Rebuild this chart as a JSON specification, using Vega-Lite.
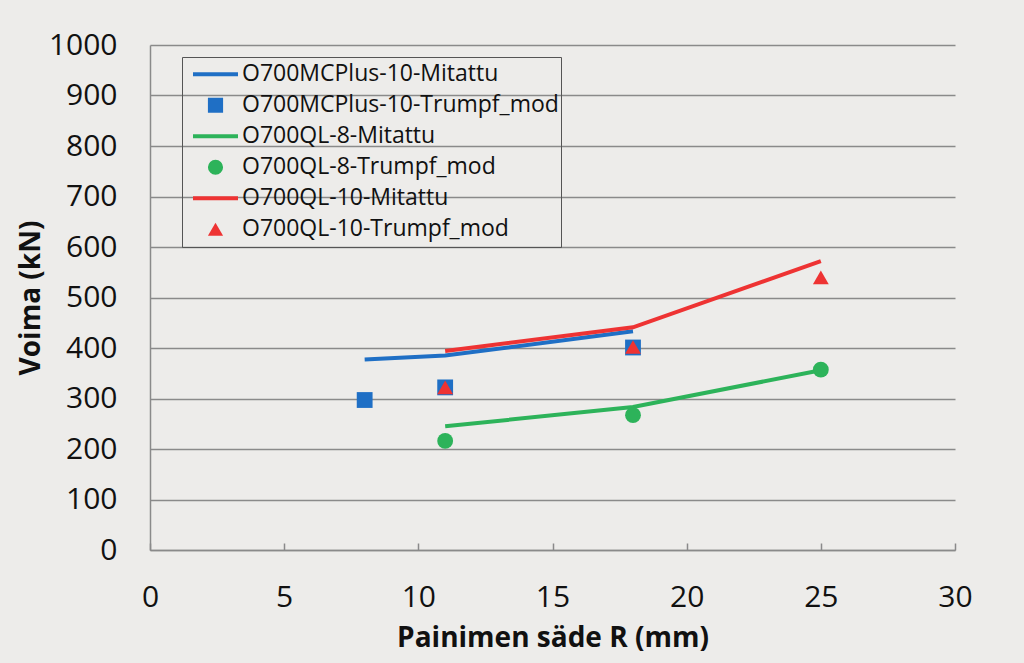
{
  "$schema": "https://vega.github.io/schema/vega-lite/v6.json",
  "width": 805,
  "height": 505,
  "autosize": "none",
  "padding": {"left": 150, "top": 45, "right": 69, "bottom": 113},
  "background": "#EDECEA",
  "config": {"view": {"stroke": null}, "font": "Open Sans"},
  "data": {"values": [
    {"series": "O700MCPlus-10-Mitattu", "kind": "line", "R": 8, "F": 377},
    {"series": "O700MCPlus-10-Mitattu", "kind": "line", "R": 11, "F": 385},
    {"series": "O700MCPlus-10-Mitattu", "kind": "line", "R": 18, "F": 433},
    {"series": "O700MCPlus-10-Trumpf_mod", "kind": "point", "R": 8, "F": 297},
    {"series": "O700MCPlus-10-Trumpf_mod", "kind": "point", "R": 11, "F": 322},
    {"series": "O700MCPlus-10-Trumpf_mod", "kind": "point", "R": 18, "F": 401},
    {"series": "O700QL-8-Mitattu", "kind": "line", "R": 11, "F": 245},
    {"series": "O700QL-8-Mitattu", "kind": "line", "R": 18, "F": 283},
    {"series": "O700QL-8-Mitattu", "kind": "line", "R": 25, "F": 356},
    {"series": "O700QL-8-Trumpf_mod", "kind": "point", "R": 11, "F": 216},
    {"series": "O700QL-8-Trumpf_mod", "kind": "point", "R": 18, "F": 267},
    {"series": "O700QL-8-Trumpf_mod", "kind": "point", "R": 25, "F": 357},
    {"series": "O700QL-10-Mitattu", "kind": "line", "R": 11, "F": 394},
    {"series": "O700QL-10-Mitattu", "kind": "line", "R": 18, "F": 441},
    {"series": "O700QL-10-Mitattu", "kind": "line", "R": 25, "F": 572},
    {"series": "O700QL-10-Trumpf_mod", "kind": "point", "R": 11, "F": 322},
    {"series": "O700QL-10-Trumpf_mod", "kind": "point", "R": 18, "F": 402},
    {"series": "O700QL-10-Trumpf_mod", "kind": "point", "R": 25, "F": 540}
  ]},
  "encoding": {
    "x": {
      "field": "R", "type": "quantitative",
      "scale": {"domain": [0, 30], "nice": false},
      "axis": {
        "title": "Painimen säde R (mm)",
        "values": [0, 5, 10, 15, 20, 25, 30],
        "labelFlush": false,
        "grid": false,
        "tickSize": -7,
        "tickColor": "#8a8a8a",
        "tickWidth": 1.5,
        "domainColor": "#8a8a8a",
        "domainWidth": 1.5,
        "labelFontSize": 30,
        "labelColor": "#111111",
        "labelPadding": 39,
        "titleFontSize": 28,
        "titleFontWeight": "bold",
        "titleColor": "#111111",
        "titlePadding": 12
      }
    },
    "y": {
      "field": "F", "type": "quantitative",
      "scale": {"domain": [0, 1000], "nice": false},
      "axis": {
        "title": "Voima (kN)",
        "format": "d",
        "values": [0, 100, 200, 300, 400, 500, 600, 700, 800, 900, 1000],
        "labelFlush": false,
        "grid": true,
        "gridColor": "#8a8a8a",
        "gridWidth": 1.5,
        "ticks": false,
        "domainColor": "#8a8a8a",
        "domainWidth": 1.5,
        "labelFontSize": 30,
        "labelColor": "#111111",
        "labelPadding": 33,
        "titleFontSize": 28,
        "titleFontWeight": "bold",
        "titleColor": "#111111",
        "titlePadding": 3
      }
    },
    "color": {
      "field": "series", "type": "nominal",
      "scale": {
        "domain": ["O700MCPlus-10-Mitattu", "O700MCPlus-10-Trumpf_mod", "O700QL-8-Mitattu", "O700QL-8-Trumpf_mod", "O700QL-10-Mitattu", "O700QL-10-Trumpf_mod"],
        "range": ["#1F6FC5", "#1F6FC5", "#2DB35A", "#2DB35A", "#EE3333", "#EE3333"]
      },
      "legend": {
        "title": null,
        "orient": "none",
        "legendX": 32,
        "legendY": 12,
        "strokeColor": "#555555",
        "padding": 2,
        "symbolSize": 2025,
        "clipHeight": 30.5,
        "symbolOffset": 20,
        "labelOffset": 15,
        "labelFontSize": 23,
        "labelColor": "#111111",
        "labelLimit": 500,
        "rowPadding": 0,
        "symbolOpacity": 1,
        "encode": {
          "symbols": {
            "update": {
              "size": {"signal": "test(/Mitattu/, datum.value) ? 2025 : 230"},
              "stroke": {"scale": "color", "field": "value"},
              "strokeWidth": {"signal": "test(/Mitattu/, datum.value) ? 4 : 0"},
              "opacity": {"value": 1}
            }
          }
        }
      }
    }
  },
  "layer": [
    {
      "transform": [{"filter": "datum.kind === 'line'"}],
      "mark": {"type": "line", "strokeWidth": 4}
    },
    {
      "transform": [{"filter": "datum.kind === 'point'"}],
      "mark": {"type": "point", "filled": true, "opacity": 1, "size": 250},
      "encoding": {
        "shape": {
          "field": "series", "type": "nominal",
          "scale": {
            "domain": ["O700MCPlus-10-Mitattu", "O700MCPlus-10-Trumpf_mod", "O700QL-8-Mitattu", "O700QL-8-Trumpf_mod", "O700QL-10-Mitattu", "O700QL-10-Trumpf_mod"],
            "range": ["stroke", "square", "stroke", "circle", "stroke", "triangle-up"]
          }
        }
      }
    }
  ]
}
